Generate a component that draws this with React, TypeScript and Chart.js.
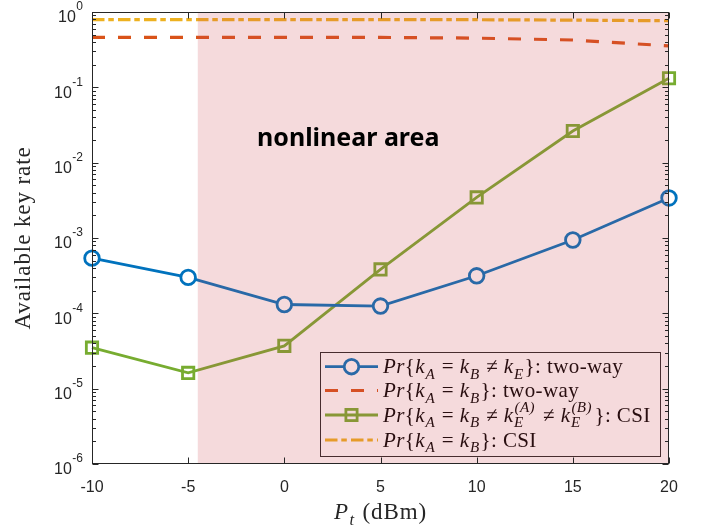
import React, { useEffect, useRef } from 'react';
import { Chart, registerables } from 'chart.js';

Chart.register(...registerables);

// ---------- data ----------
const powerDbm = [-10, -5, 0, 5, 10, 15, 20];
const twoWayLeak = [5.4e-4, 3.0e-4, 1.31e-4, 1.25e-4, 3.15e-4, 9.4e-4, 3.4e-3];
const twoWayAgree = [0.46, 0.46, 0.46, 0.46, 0.45, 0.425, 0.355];
const csiLeak = [3.5e-5, 1.62e-5, 3.7e-5, 3.83e-4, 3.46e-3, 2.63e-2, 0.132];
const csiAgree = [0.79, 0.79, 0.79, 0.79, 0.79, 0.78, 0.765];
const xTicks = [-10, -5, 0, 5, 10, 15, 20];
const yDecades = [-6, -5, -4, -3, -2, -1, 0];
const nonlinearStart = -4.5;
const regionLabel = 'nonlinear area';
const xTitle = 'P';
const xTitleSub = 't';
const xTitleRest = ' (dBm)';
const yTitle = 'Available key rate';

const SANS = "'Liberation Sans', Arial, sans-serif";
const SERIF = "'Liberation Serif', 'Times New Roman', serif";
const AXIS = '#262626';
const BLUE = '#0072BD';
const RED = '#D95319';
const GREEN = '#77AC30';
const YELLOW = '#EDB120';

type Seg = { t: string; it?: boolean; sub?: string; sup?: string };

const legendRows: { segs: Seg[]; key: string }[] = [
  {
    key: 'blue',
    segs: [
      { t: 'Pr', it: true }, { t: '{' }, { t: 'k', it: true, sub: 'A' }, { t: ' = ' },
      { t: 'k', it: true, sub: 'B' }, { t: ' ≠ ' }, { t: 'k', it: true, sub: 'E' }, { t: '}: two-way' },
    ],
  },
  {
    key: 'red',
    segs: [
      { t: 'Pr', it: true }, { t: '{' }, { t: 'k', it: true, sub: 'A' }, { t: ' = ' },
      { t: 'k', it: true, sub: 'B' }, { t: '}: two-way' },
    ],
  },
  {
    key: 'green',
    segs: [
      { t: 'Pr', it: true }, { t: '{' }, { t: 'k', it: true, sub: 'A' }, { t: ' = ' },
      { t: 'k', it: true, sub: 'B' }, { t: ' ≠ ' }, { t: 'k', it: true, sub: 'E', sup: '(A)' },
      { t: ' ≠ ' }, { t: 'k', it: true, sub: 'E', sup: '(B)' }, { t: '}: CSI' },
    ],
  },
  {
    key: 'yellow',
    segs: [
      { t: 'Pr', it: true }, { t: '{' }, { t: 'k', it: true, sub: 'A' }, { t: ' = ' },
      { t: 'k', it: true, sub: 'B' }, { t: '}: CSI' },
    ],
  },
];

function drawRich(
  ctx: CanvasRenderingContext2D, x: number, y: number, segs: Seg[], size: number,
  spacing: number, draw = true
): number {
  let cx = x;
  const small = size * 0.72;
  (ctx as any).letterSpacing = `${spacing}px`;
  for (const s of segs) {
    ctx.font = `${s.it ? 'italic ' : ''}${size}px ${SERIF}`;
    if (draw) ctx.fillText(s.t, cx, y);
    cx += ctx.measureText(s.t).width;
    if (s.sub || s.sup) {
      let w = 0;
      ctx.font = `italic ${small}px ${SERIF}`;
      if (s.sub) {
        if (draw) ctx.fillText(s.sub, cx + 0.5, y + size * 0.28);
        w = Math.max(w, ctx.measureText(s.sub).width);
      }
      if (s.sup) {
        if (draw) ctx.fillText(s.sup, cx + 1, y - size * 0.45);
        w = Math.max(w, ctx.measureText(s.sup).width + 2);
      }
      cx += w + 1.5;
    }
  }
  (ctx as any).letterSpacing = '0px';
  return cx - x;
}

const styles: Record<string, any> = {
  blue: { color: BLUE, width: 2.8, dash: [], marker: 'circle' },
  red: { color: RED, width: 3.2, dash: [13, 13], marker: null },
  green: { color: GREEN, width: 2.8, dash: [], marker: 'rect' },
  yellow: { color: YELLOW, width: 3.2, dash: [12.5, 3.8, 5.5, 4.2], marker: null },
};

const decorPlugin = {
  id: 'decor',
  beforeDraw(chart: any) {
    const ctx = chart.ctx as CanvasRenderingContext2D;
    ctx.save();
    ctx.fillStyle = '#fff';
    ctx.fillRect(0, 0, chart.width, chart.height);
    ctx.restore();
  },
  afterDatasetsDraw(chart: any) {
    const ctx = chart.ctx as CanvasRenderingContext2D;
    const { left, right, top, bottom } = chart.chartArea;
    const xs = chart.scales.x;
    const ys = chart.scales.y;

    // ---- legend ----
    ctx.save();
    const lx = 320.5, ly = 352.5, lw = 340, lh = 104;
    ctx.fillStyle = '#fff';
    ctx.fillRect(lx, ly, lw, lh);
    ctx.strokeStyle = AXIS;
    ctx.lineWidth = 1;
    ctx.strokeRect(lx, ly, lw, lh);
    const rowY = [366.7, 390.5, 415, 440];
    legendRows.forEach((row, i) => {
      const st = styles[row.key];
      const y = rowY[i];
      ctx.save();
      ctx.strokeStyle = st.color;
      ctx.lineWidth = st.width;
      ctx.setLineDash(st.dash);
      ctx.beginPath();
      ctx.moveTo(325, y);
      ctx.lineTo(378, y);
      ctx.stroke();
      ctx.setLineDash([]);
      if (st.marker === 'circle') {
        ctx.fillStyle = '#fff';
        ctx.beginPath();
        ctx.arc(351.5, y, 7.3, 0, Math.PI * 2);
        ctx.fill();
        ctx.stroke();
      } else if (st.marker === 'rect') {
        const h = 5.6;
        ctx.strokeRect(351.5 - h, y - h, 2 * h, 2 * h);
      }
      ctx.restore();
      ctx.fillStyle = '#000';
      ctx.textBaseline = 'alphabetic';
      ctx.textAlign = 'left';
      drawRich(ctx, 383, y + 6.5, row.segs, 21, 0.4);
    });
    ctx.restore();

    // ---- shaded nonlinear region (overlay) ----
    ctx.save();
    const sx = xs.getPixelForValue(nonlinearStart);
    ctx.fillStyle = 'rgba(205,70,80,0.2)';
    ctx.fillRect(sx, top, right - sx, bottom - top);
    ctx.restore();

    // ---- axes box ----
    ctx.save();
    ctx.strokeStyle = AXIS;
    ctx.lineWidth = 1;
    const L = Math.round(left) + 0.5, R = Math.round(right) - 0.5;
    const T = Math.round(top) + 0.5, B = Math.round(bottom) - 0.5;
    ctx.strokeRect(L, T, R - L, B - T);
    ctx.beginPath();
    for (const v of xTicks) {
      const px = Math.round(xs.getPixelForValue(v)) + 0.5;
      ctx.moveTo(px, B); ctx.lineTo(px, B - 6);
      ctx.moveTo(px, T); ctx.lineTo(px, T + 6);
    }
    for (const d of yDecades) {
      const py = Math.round(ys.getPixelForValue(Math.pow(10, d))) + 0.5;
      ctx.moveTo(L, py); ctx.lineTo(L + 6, py);
      ctx.moveTo(R, py); ctx.lineTo(R - 6, py);
      if (d < 0) {
        for (let m = 2; m <= 9; m++) {
          const pm = Math.round(ys.getPixelForValue(m * Math.pow(10, d))) + 0.5;
          ctx.moveTo(L, pm); ctx.lineTo(L + 3.5, pm);
          ctx.moveTo(R, pm); ctx.lineTo(R - 3.5, pm);
        }
      }
    }
    ctx.stroke();

    // tick labels
    ctx.fillStyle = AXIS;
    ctx.textBaseline = 'middle';
    ctx.textAlign = 'center';
    ctx.font = `16px ${SANS}`;
    for (const v of xTicks) {
      ctx.fillText(String(v), xs.getPixelForValue(v), 488);
    }
    for (const d of yDecades) {
      const py = ys.getPixelForValue(Math.pow(10, d));
      const exp = String(d);
      ctx.font = `12px ${SANS}`;
      const ew = ctx.measureText(exp).width;
      ctx.textAlign = 'left';
      ctx.fillText(exp, 83 - ew, py - 5);
      ctx.font = `16px ${SANS}`;
      ctx.textAlign = 'right';
      ctx.fillText('10', 83 - ew - 0.5, py + 6);
    }

    // axis titles
    ctx.fillStyle = AXIS;
    ctx.textBaseline = 'alphabetic';
    ctx.textAlign = 'left';
    const tsegs: Seg[] = [{ t: xTitle, it: true, sub: xTitleSub }, { t: xTitleRest }];
    const tw = drawRich(ctx, 0, 0, tsegs, 23, 0.9, false);
    drawRich(ctx, (left + right) / 2 - tw / 2, 519, tsegs, 23, 0.9);

    ctx.save();
    ctx.translate(24, (top + bottom) / 2);
    ctx.rotate(-Math.PI / 2);
    ctx.textAlign = 'center';
    ctx.textBaseline = 'middle';
    ctx.font = `23px ${SERIF}`;
    (ctx as any).letterSpacing = '0.9px';
    ctx.fillText(yTitle, 0, 0);
    (ctx as any).letterSpacing = '0px';
    ctx.restore();

    // region label
    ctx.fillStyle = '#000';
    ctx.textAlign = 'left';
    ctx.textBaseline = 'middle';
    ctx.font = `bold 25px 'Noto Sans', 'Open Sans', sans-serif`;
    ctx.fillText(regionLabel, 257, 139);
    ctx.restore();
  },
};

export default function App() {
  const ref = useRef<HTMLCanvasElement | null>(null);
  useEffect(() => {
    if (!ref.current) return;
    const pts = (arr: number[]) => powerDbm.map((x, i) => ({ x, y: arr[i] }));
    const chart = new Chart(ref.current, {
      type: 'line',
      data: {
        datasets: [
          {
            label: 'Pr{kA = kB ≠ kE}: two-way',
            data: pts(twoWayLeak),
            borderColor: BLUE,
            borderWidth: 2.8,
            pointStyle: 'circle',
            pointRadius: 7.3,
            pointBorderWidth: 2.8,
            pointBorderColor: BLUE,
            pointBackgroundColor: '#fff',
            clip: false,
            tension: 0,
          },
          {
            label: 'Pr{kA = kB}: two-way',
            data: pts(twoWayAgree),
            borderColor: RED,
            borderWidth: 3.2,
            borderDash: [13, 13],
            pointRadius: 0,
            clip: false,
            tension: 0,
          },
          {
            label: 'Pr{kA = kB ≠ kE(A) ≠ kE(B)}: CSI',
            data: pts(csiLeak),
            borderColor: GREEN,
            borderWidth: 2.8,
            pointStyle: 'rect',
            pointRadius: 8,
            pointBorderWidth: 2.8,
            pointBorderColor: GREEN,
            pointBackgroundColor: 'rgba(0,0,0,0)',
            clip: false,
            tension: 0,
          },
          {
            label: 'Pr{kA = kB}: CSI',
            data: pts(csiAgree),
            borderColor: YELLOW,
            borderWidth: 3.2,
            borderDash: [12.5, 3.8, 5.5, 4.2],
            pointRadius: 0,
            clip: false,
            tension: 0,
          },
        ],
      },
      options: {
        responsive: false,
        animation: false,
        events: [],
        layout: { padding: { left: 92, right: 40, top: 12, bottom: 65 } },
        plugins: { legend: { display: false }, tooltip: { enabled: false } },
        scales: {
          x: { type: 'linear', min: -10, max: 20, display: false },
          y: { type: 'logarithmic', min: 1e-6, max: 1, display: false },
        },
      } as any,
      plugins: [decorPlugin as any],
    });
    return () => chart.destroy();
  }, []);
  return (
    <div style={{ position: 'fixed', left: 0, top: 0, width: 709, height: 529, background: '#fff' }}>
      <canvas ref={ref} width={709} height={529} style={{ display: 'block' }} />
    </div>
  );
}
